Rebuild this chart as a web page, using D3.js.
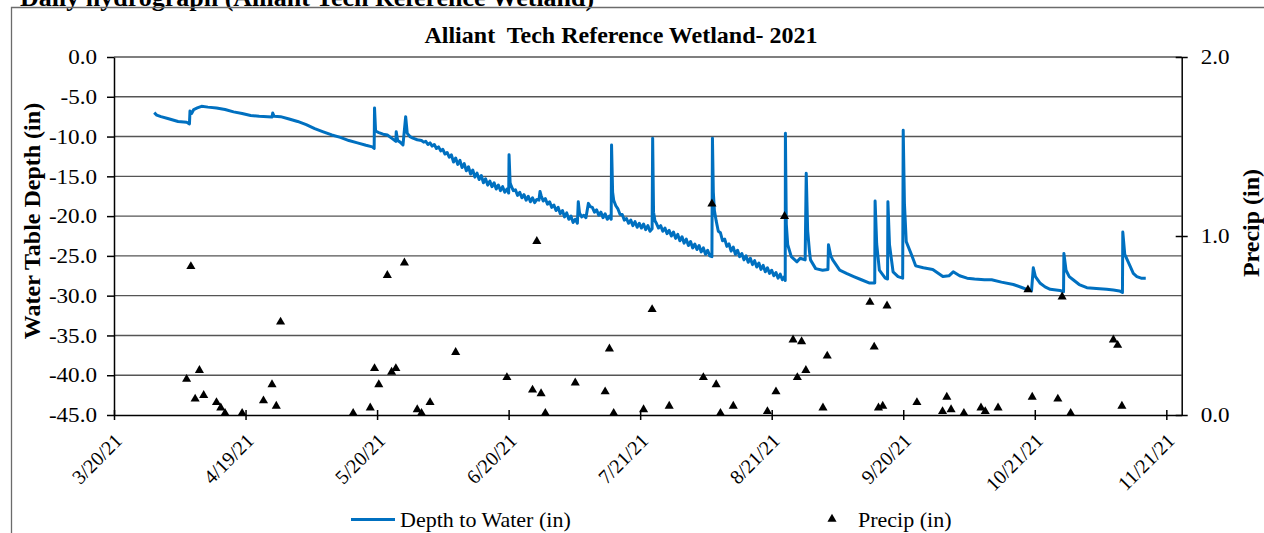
<!DOCTYPE html>
<html>
<head>
<meta charset="utf-8">
<title>Alliant Tech Reference Wetland - 2021</title>
<script src="https://d3js.org/d3.v7.min.js"></script>
<style>
  body { margin:0; background:#fff; }
  svg { display:block; font-family:"Liberation Serif","Times New Roman",serif; }
  .grid line { stroke:#555; stroke-width:1.4px; }
  .axis path, .axis line { stroke:#000; stroke-width:1.5px; }
  .axis text { font-size:20px; fill:#000; font-family:"Liberation Serif",serif; }
  .axis.value text { font-size:21px; }
</style>
</head>
<body>
<script>

// depth to water (in): ["m/d hour", value]
var depthSeries = [
  ["3/29 10",-7.0],["3/30 0",-7.3],["3/31 0",-7.5],["4/2 0",-7.8],["4/4 0",-8.1],["4/6 0",-8.2],
  ["4/6 16",-8.4],["4/6 19",-6.8],["4/7 4",-7.1],["4/7 16",-6.6],["4/8 12",-6.4],["4/9 12",-6.2],
  ["4/11 0",-6.3],["4/13 0",-6.4],["4/15 0",-6.6],["4/17 0",-6.9],["4/19 0",-7.1],["4/21 0",-7.35],
  ["4/23 0",-7.45],["4/25 0",-7.5],["4/26 0",-7.55],["4/26 4",-7.05],["4/26 12",-7.45],["4/28 0",-7.5],
  ["4/30 0",-7.8],["5/2 0",-8.1],["5/4 0",-8.5],["5/6 0",-9.0],["5/8 0",-9.4],["5/10 0",-9.8],
  ["5/12 0",-10.1],["5/14 0",-10.5],["5/16 0",-10.8],["5/18 0",-11.1],["5/19 12",-11.3],["5/19 22",-11.5],
  ["5/20 0",-6.4],["5/20 6",-9.3],["5/21 0",-9.5],["5/22 0",-9.7],["5/23 0",-9.8],["5/24 0",-10.2],
  ["5/25 0",-10.6],["5/25 2",-9.4],["5/25 10",-10.5],["5/26 0",-10.7],["5/26 16",-11.05],["5/27 7",-7.5],
  ["5/27 16",-9.6],["5/28 7",-10.0],["5/29 0",-10.2],["5/30 0",-10.4],["5/31 0",-10.5],["5/31 12",-10.7],
  ["6/1 0",-10.6],["6/1 12",-11.0],["6/2 0",-10.8],["6/2 12",-11.2],["6/3 0",-11.0],["6/3 12",-11.5],
  ["6/4 0",-11.3],["6/4 12",-11.8],["6/5 0",-11.6],["6/5 12",-12.2],["6/6 0",-12.0],["6/6 12",-12.6],
  ["6/7 0",-12.3],["6/7 12",-13.2],["6/8 0",-12.7],["6/8 12",-13.5],["6/9 0",-13.0],["6/9 12",-13.9],
  ["6/10 0",-13.4],["6/10 12",-14.3],["6/11 0",-13.8],["6/11 12",-14.7],["6/12 0",-14.2],["6/12 12",-15.1],
  ["6/13 0",-14.6],["6/13 12",-15.4],["6/14 0",-14.9],["6/14 12",-15.8],["6/15 0",-15.3],["6/15 12",-16.1],
  ["6/16 0",-15.6],["6/16 12",-16.3],["6/17 0",-15.8],["6/17 12",-16.6],["6/18 0",-16.1],["6/18 12",-16.8],
  ["6/19 0",-16.3],["6/19 12",-17.0],["6/20 0",-16.6],["6/20 10",-17.1],["6/20 12",-12.3],["6/20 18",-15.8],
  ["6/21 0",-16.2],["6/21 12",-16.8],["6/22 0",-16.7],["6/22 12",-17.4],["6/23 0",-17.0],["6/23 12",-17.7],
  ["6/24 0",-17.3],["6/24 12",-18.0],["6/25 0",-17.5],["6/25 12",-18.2],["6/26 0",-17.7],["6/26 12",-18.3],
  ["6/27 0",-17.9],["6/27 12",-18.0],["6/27 18",-16.9],["6/28 0",-17.4],["6/28 12",-18.1],["6/29 0",-17.8],
  ["6/29 12",-18.5],["6/30 0",-18.2],["6/30 12",-18.9],["7/1 0",-18.6],["7/1 12",-19.3],["7/2 0",-18.9],
  ["7/2 12",-19.7],["7/3 0",-19.3],["7/3 12",-20.1],["7/4 0",-19.6],["7/4 12",-20.4],["7/5 0",-20.0],
  ["7/5 12",-20.8],["7/6 0",-20.4],["7/6 12",-20.9],["7/6 17",-18.2],["7/7 0",-19.6],["7/7 12",-20.1],
  ["7/8 0",-19.9],["7/8 12",-20.2],["7/9 2",-18.4],["7/9 12",-18.8],["7/10 0",-18.9],["7/10 12",-19.5],
  ["7/11 0",-19.2],["7/11 12",-19.9],["7/12 0",-19.5],["7/12 12",-20.2],["7/13 0",-19.7],["7/13 12",-20.4],
  ["7/14 0",-20.0],["7/14 10",-20.4],["7/14 12",-11.05],["7/14 18",-17.0],["7/15 0",-18.0],["7/15 12",-18.7],
  ["7/16 0",-19.1],["7/16 12",-19.8],["7/17 0",-19.8],["7/17 12",-20.5],["7/18 0",-20.3],["7/18 12",-20.9],
  ["7/19 0",-20.5],["7/19 12",-21.2],["7/20 0",-20.7],["7/20 12",-21.4],["7/21 0",-20.9],["7/21 12",-21.5],
  ["7/22 0",-21.0],["7/22 12",-21.7],["7/23 0",-21.2],["7/23 12",-21.9],["7/24 0",-21.6],["7/24 3",-10.2],
  ["7/24 8",-19.5],["7/24 16",-20.6],["7/25 0",-20.9],["7/25 12",-21.5],["7/26 0",-21.2],["7/26 12",-21.9],
  ["7/27 0",-21.5],["7/27 12",-22.2],["7/28 0",-21.8],["7/28 12",-22.5],["7/29 0",-22.0],["7/29 12",-22.8],
  ["7/30 0",-22.3],["7/30 12",-23.1],["7/31 0",-22.6],["7/31 12",-23.4],["8/1 0",-22.9],["8/1 12",-23.7],
  ["8/2 0",-23.2],["8/2 12",-24.0],["8/3 0",-23.5],["8/3 12",-24.2],["8/4 0",-23.7],["8/4 12",-24.5],
  ["8/5 0",-24.0],["8/5 12",-24.8],["8/6 0",-24.3],["8/6 12",-25.0],["8/7 0",-25.1],["8/7 3",-10.2],
  ["8/7 8",-17.0],["8/7 14",-19.3],["8/8 0",-20.6],["8/8 12",-21.9],["8/9 0",-22.1],["8/9 12",-23.1],
  ["8/10 0",-22.9],["8/10 12",-23.8],["8/11 0",-23.5],["8/11 12",-24.4],["8/12 0",-23.9],["8/12 12",-24.8],
  ["8/13 0",-24.3],["8/13 12",-25.1],["8/14 0",-24.7],["8/14 12",-25.5],["8/15 0",-25.0],["8/15 12",-25.8],
  ["8/16 0",-25.3],["8/16 12",-26.1],["8/17 0",-25.6],["8/17 12",-26.4],["8/18 0",-25.9],["8/18 12",-26.7],
  ["8/19 0",-26.2],["8/19 12",-27.0],["8/20 0",-26.5],["8/20 12",-27.2],["8/21 0",-26.8],["8/21 12",-27.5],
  ["8/22 0",-27.1],["8/22 12",-27.8],["8/23 0",-27.3],["8/23 12",-28.0],["8/24 0",-27.6],["8/24 4",-28.1],
  ["8/24 5",-9.6],["8/24 10",-21.0],["8/24 18",-23.6],["8/25 14",-25.1],["8/26 22",-25.75],["8/27 16",-25.3],
  ["8/28 20",-25.5],["8/29 2",-14.6],["8/29 10",-21.8],["8/29 20",-24.4],["8/30 2",-25.5],["8/31 7",-26.6],
  ["9/1 22",-26.8],["9/3 4",-26.7],["9/3 7",-23.6],["9/3 20",-25.0],["9/4 7",-25.5],["9/5 22",-26.8],
  ["9/7 12",-27.2],["9/9 5",-27.6],["9/11 0",-28.0],["9/12 19",-28.4],["9/14 3",-28.4],["9/14 5",-18.1],
  ["9/14 14",-23.5],["9/15 5",-26.8],["9/16 14",-27.8],["9/17 3",-27.9],["9/17 5",-18.2],["9/17 14",-23.6],
  ["9/18 10",-27.0],["9/19 14",-27.6],["9/20 16",-27.8],["9/20 19",-9.2],["9/21 2",-18.5],["9/21 12",-23.2],
  ["9/22 22",-25.1],["9/23 17",-26.25],["9/25 12",-26.5],["9/27 17",-26.7],["9/30 2",-27.6],["10/1 12",-27.5],
  ["10/2 12",-27.0],["10/4 0",-27.5],["10/5 18",-27.8],["10/7 12",-27.9],["10/9 19",-28.0],["10/11 12",-28.0],
  ["10/13 19",-28.3],["10/16 14",-28.6],["10/18 17",-29.0],["10/19 17",-29.2],["10/20 20",-29.4],["10/21 6",-26.5],
  ["10/21 18",-27.6],["10/22 19",-28.4],["10/24 0",-28.9],["10/25 5",-29.2],["10/27 12",-29.35],["10/28 8",-29.5],
  ["10/28 10",-24.7],["10/28 22",-26.8],["10/29 16",-27.6],["10/30 14",-28.0],["11/1 0",-28.6],["11/2 19",-29.0],
  ["11/5 0",-29.1],["11/7 10",-29.2],["11/9 0",-29.3],["11/10 10",-29.4],["11/11 3",-29.6],["11/11 5",-22.0],
  ["11/11 16",-24.8],["11/12 22",-26.3],["11/13 16",-27.2],["11/14 12",-27.6],["11/15 12",-27.8],["11/16 14",-27.8]
];

// daily precipitation (in)
var precipSeries = [
  ["4/6",0.20],["4/7",0.83],["4/8",0.09],["4/9",0.25],["4/10",0.11],["4/13",0.07],["4/14",0.04],
  ["4/15",0.01],["4/19",0.01],["4/24",0.08],["4/26",0.17],["4/27",0.05],["4/28",0.52],["5/15",0.01],
  ["5/19",0.04],["5/20",0.26],["5/21",0.17],["5/23",0.78],["5/24",0.24],["5/25",0.26],["5/27",0.85],
  ["5/30",0.03],["5/31",0.01],["6/2",0.07],["6/8",0.35],["6/20",0.21],["6/26",0.14],["6/27",0.97],
  ["6/28",0.12],["6/29",0.01],["7/6",0.18],["7/13",0.13],["7/14",0.37],["7/15",0.01],["7/22",0.03],
  ["7/24",0.59],["7/28",0.05],["8/5",0.21],["8/7",1.18],["8/8",0.17],["8/9",0.01],["8/12",0.05],
  ["8/20",0.02],["8/22",0.13],["8/24",1.11],["8/26",0.42],["8/27",0.21],["8/28",0.41],["8/29",0.25],
  ["9/2",0.04],["9/3",0.33],["9/13",0.63],["9/14",0.38],["9/15",0.04],["9/16",0.05],["9/17",0.61],
  ["9/24",0.07],["9/30",0.02],["10/1",0.10],["10/2",0.03],["10/5",0.01],["10/9",0.04],["10/10",0.02],
  ["10/13",0.04],["10/20",0.70],["10/21",0.10],["10/27",0.09],["10/28",0.66],["10/30",0.01],["11/9",0.42],
  ["11/10",0.39],["11/11",0.05]
];

var dateTickLabels = ["3/20/21","4/19/21","5/20/21","6/20/21","7/21/21","8/21/21","9/20/21","10/21/21","11/21/21"];
var depthTicks = [0,-5,-10,-15,-20,-25,-30,-35,-40,-45];
var precipTicks = [0,1,2];

var width = 1264, height = 533;
var plotLeft = 114, plotRight = 1181.7, plotTop = 57, plotBottom = 415;
var majorUnit = 30.8; // days between date ticks, as on the original axis

var parseT = d3.utcParse("%m/%d/%Y %H");
function toDate(s) {
  var p = s.split(" ");
  return parseT(p[0] + "/2021 " + (p[1] || "0"));
}
var start = toDate("3/20");
var dayMs = 864e5;

var x = d3.scaleUtc()
    .domain([start, new Date(+start + 250 * dayMs)])
    .range([plotLeft, plotRight]);
var yDepth = d3.scaleLinear().domain([-45, 0]).range([plotBottom, plotTop]);
var yPrecip = d3.scaleLinear().domain([0, 2]).range([plotBottom, plotTop]);

var svg = d3.select("body").append("svg")
    .attr("width", width)
    .attr("height", height);

svg.append("rect").attr("width", width).attr("height", height).attr("fill", "#fff");

// cropped page heading above the chart
svg.append("text")
    .attr("x", 20).attr("y", 6)
    .style("font-size", "26px").style("font-weight", "bold")
    .text("Daily hydrograph (Alliant Tech Reference Wetland)");

// outer frame
svg.append("path")
    .attr("d", "M11.5," + height + "V7.5H" + width)
    .attr("fill", "none").attr("stroke", "#6b6b6b").attr("stroke-width", 1.3);

// horizontal gridlines
svg.append("g").attr("class", "grid")
  .selectAll("line")
  .data(depthTicks.slice(0, -1))
  .enter().append("line")
    .attr("x1", plotLeft).attr("x2", plotRight)
    .attr("y1", function (d) { return yDepth(d); })
    .attr("y2", function (d) { return yDepth(d); });

// title
svg.append("text")
    .attr("x", 621).attr("y", 43)
    .attr("text-anchor", "middle")
    .style("font-size", "24px").style("font-weight", "bold")
    .style("white-space", "pre")
    .text("Alliant  Tech Reference Wetland- 2021");

// left axis
svg.append("g").attr("class", "axis value")
    .attr("transform", "translate(" + plotLeft + ",0)")
    .call(d3.axisLeft(yDepth).tickValues(depthTicks).tickSize(7).tickSizeOuter(0).tickPadding(10)
      .tickFormat(function (d) { return d.toFixed(1); }));

// right axis
var gRight = svg.append("g").attr("class", "axis value")
    .attr("transform", "translate(" + plotRight + ",0)")
    .call(d3.axisRight(yPrecip).tickValues(precipTicks).tickSize(6).tickSizeOuter(0).tickPadding(13)
      .tickFormat(function (d) { return d.toFixed(1); }));
gRight.selectAll(".tick line").attr("x1", -6);

// the original value labels are a little wider than Times at this height
svg.selectAll(".axis.value .tick text").each(function () {
  var w = this.getComputedTextLength();
  d3.select(this).attr("textLength", w * 1.1).attr("lengthAdjust", "spacingAndGlyphs");
});

// bottom axis
var dateTicks = dateTickLabels.map(function (l, i) { return new Date(+start + i * majorUnit * dayMs); });
var gBottom = svg.append("g").attr("class", "axis")
    .attr("transform", "translate(0," + plotBottom + ")")
    .call(d3.axisBottom(x).tickValues(dateTicks).tickSize(5).tickSizeOuter(0)
      .tickFormat(function (d, i) { return dateTickLabels[i]; }));
gBottom.selectAll(".tick line").attr("y1", -5);
gBottom.selectAll(".tick text")
    .attr("x", 0).attr("y", 0).attr("dy", "0.35em")
    .attr("text-anchor", "end")
    .attr("transform", "translate(4,22) rotate(-45)");

// axis titles
svg.append("text")
    .attr("transform", "translate(40,221) rotate(-90)")
    .attr("text-anchor", "middle")
    .style("font-size", "24px").style("font-weight", "bold")
    .text("Water Table Depth (in)");

svg.append("text")
    .attr("transform", "translate(1259,223) rotate(-90)")
    .attr("text-anchor", "middle")
    .style("font-size", "24px").style("font-weight", "bold")
    .text("Precip (in)");

// depth line
var line = d3.line()
    .x(function (d) { return x(toDate(d[0])); })
    .y(function (d) { return yDepth(d[1]); });

svg.append("path")
    .datum(depthSeries)
    .attr("d", line)
    .attr("fill", "none")
    .attr("stroke", "#0070c0")
    .attr("stroke-width", 3)
    .attr("stroke-linejoin", "round");

// precip markers
var tri = d3.symbol().type(d3.symbolTriangle).size(36);
svg.append("g")
  .selectAll("path")
  .data(precipSeries)
  .enter().append("path")
    .attr("d", tri)
    .attr("fill", "#000")
    .attr("transform", function (d) {
      return "translate(" + x(toDate(d[0])) + "," + yPrecip(d[1]) + ")";
    });

// legend
var legend = svg.append("g").style("font-size", "22px");
legend.append("line")
    .attr("x1", 351).attr("x2", 395).attr("y1", 519.5).attr("y2", 519.5)
    .attr("stroke", "#0070c0").attr("stroke-width", 3);
legend.append("text").attr("x", 400).attr("y", 527).text("Depth to Water (in)");
legend.append("path")
    .attr("d", tri)
    .attr("transform", "translate(832,519)");
legend.append("text").attr("x", 858).attr("y", 527).text("Precip (in)");

</script>
</body>
</html>
